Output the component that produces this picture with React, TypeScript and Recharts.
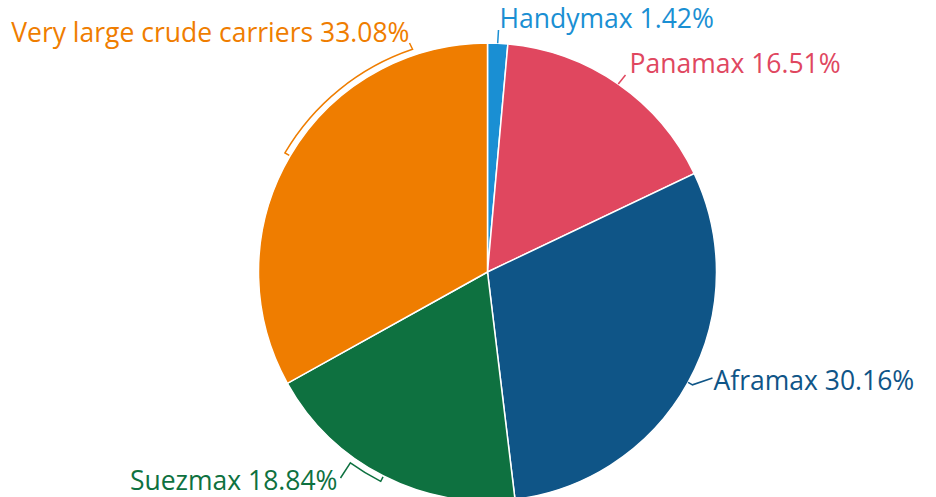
import React from "react";
import { Pie, PieChart, Cell } from "recharts";

const categories = [
  "Handymax",
  "Panamax",
  "Aframax",
  "Suezmax",
  "Very large crude carriers",
];
const shares = [1.42, 16.51, 30.16, 18.84, 33.08];
const colors = ["#1a8fd3", "#e0475f", "#0f5587", "#0e7140", "#ef7d00"];

const data = categories.map((name, i) => ({ name, value: shares[i] }));

// label placement, relative to the pie centre
type LabelLayout = {
  tx: number;
  ty: number;
  anchor: "start" | "end";
  kind: "line" | "crook" | "bracket";
  bracketTo?: number;
  via: [number, number];
};

const LAYOUT: Record<string, LabelLayout> = {
  Handymax: { tx: 12, ty: -244, anchor: "start", kind: "line", via: [11, -242] },
  Panamax: { tx: 142, ty: -199, anchor: "start", kind: "line", via: [138, -197] },
  Aframax: { tx: 226, ty: 118, anchor: "start", kind: "crook", via: [225, 106] },
  Suezmax: { tx: -150, ty: 218, anchor: "end", kind: "bracket", bracketTo: -125.7, via: [-147, 206] },
  "Very large crude carriers": {
    tx: -78,
    ty: -230,
    anchor: "end",
    kind: "bracket",
    bracketTo: 108.6,
    via: [-78, -229],
  },
};

const RAD = Math.PI / 180;
const polar = (cx: number, cy: number, r: number, a: number) => [
  cx + Math.cos(-a * RAD) * r,
  cy + Math.sin(-a * RAD) * r,
];

function renderLabel(props: any) {
  const { cx, cy, midAngle, outerRadius, name, value, index } = props;
  const lay = LAYOUT[name];
  const color = colors[index];
  const [ex, ey] = polar(cx, cy, outerRadius, midAngle);
  const [vx, vy] = [cx + lay.via[0], cy + lay.via[1]];
  let d = "";
  if (lay.kind === "line") {
    d = `M${ex},${ey} L${vx},${vy}`;
  } else if (lay.kind === "crook") {
    const [kx, ky] = polar(cx, cy, outerRadius + 5, midAngle);
    d = `M${ex},${ey} L${kx},${ky} L${vx},${vy}`;
  } else {
    let to = lay.bracketTo!;
    while (to - midAngle > 180) to -= 360;
    while (midAngle - to > 180) to += 360;
    const r = outerRadius + 6;
    const [sx, sy] = polar(cx, cy, r, midAngle);
    const [bx, by] = polar(cx, cy, r, to);
    const sweep = to < midAngle ? 1 : 0;
    const [ix, iy] = polar(cx, cy, outerRadius + 1, midAngle);
    d = `M${ix},${iy} L${sx},${sy} A${r},${r} 0 0 ${sweep} ${bx},${by} L${vx},${vy}`;
  }
  return (
    <g key={name}>
      <path d={d} stroke={color} strokeWidth={1.5} fill="none" />
      <text
        x={cx + lay.tx}
        y={cy + lay.ty}
        textAnchor={lay.anchor}
        fill={color}
        fontSize={26.5}
        fontFamily="'Open Sans', sans-serif"
      >
        {`${name} ${value.toFixed(2)}%`}
      </text>
    </g>
  );
}

export default function App() {
  return (
    <div style={{ position: "absolute", left: 0, top: 0, width: 936, height: 497, background: "#fff" }}>
      <PieChart width={936} height={497} margin={{ top: 0, right: 0, bottom: 0, left: 0 }}>
        <Pie
          data={data}
          dataKey="value"
          nameKey="name"
          cx={487.5}
          cy={272}
          outerRadius={229}
          startAngle={90}
          endAngle={-270}
          stroke="#ffffff"
          strokeWidth={1.5}
          label={renderLabel}
          labelLine={false}
          isAnimationActive={false}
        >
          {data.map((d, i) => (
            <Cell key={d.name} fill={colors[i]} />
          ))}
        </Pie>
      </PieChart>
    </div>
  );
}
